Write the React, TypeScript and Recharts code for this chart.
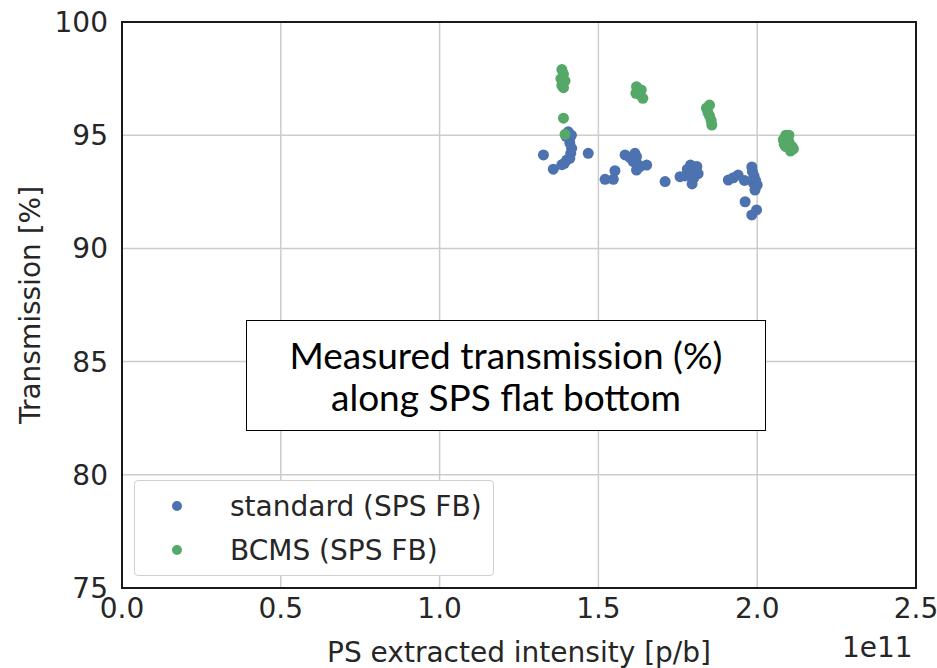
import {
  ScatterChart,
  Scatter,
  XAxis,
  YAxis,
  CartesianGrid,
  ReferenceArea,
} from "recharts";

// intensity in units of 1e11 p/b, transmission in %
const standardPoints: [number, number][] = [
  [1.327, 94.13], [1.358, 93.5], [1.385, 93.7], [1.393, 93.76], [1.4, 93.9],
  [1.41, 93.98], [1.413, 94.2], [1.416, 94.42], [1.41, 94.65], [1.41, 94.86],
  [1.405, 95.15], [1.415, 95.0], [1.398, 94.95], [1.468, 94.2],
  [1.521, 93.05], [1.547, 93.05], [1.552, 93.43], [1.584, 94.13], [1.6, 94.0],
  [1.615, 94.2], [1.62, 94.05], [1.61, 93.83], [1.625, 93.7], [1.62, 93.46],
  [1.63, 93.6], [1.652, 93.68], [1.71, 92.95],
  [1.757, 93.17], [1.773, 93.2], [1.78, 93.5], [1.79, 93.68], [1.8, 93.6],
  [1.81, 93.62], [1.79, 93.3], [1.8, 93.1], [1.795, 92.85], [1.814, 93.3],
  [1.909, 93.02], [1.925, 93.12], [1.94, 93.24], [1.96, 93.0], [1.983, 93.6],
  [1.985, 93.4], [1.99, 93.2], [1.988, 92.88], [1.995, 93.0], [1.993, 92.58],
  [1.962, 92.06], [1.983, 91.48], [1.998, 91.7], [2.0, 92.8],
];

const bcmsPoints: [number, number][] = [
  [1.385, 97.9], [1.39, 97.7], [1.382, 97.5], [1.39, 97.35], [1.395, 97.4],
  [1.385, 97.2], [1.39, 97.1], [1.39, 95.75], [1.395, 95.04],
  [1.62, 97.14], [1.625, 96.95], [1.63, 96.8], [1.64, 96.63], [1.618, 96.85],
  [1.635, 97.0],
  [1.84, 96.2], [1.85, 96.33], [1.845, 96.0], [1.85, 95.85], [1.855, 95.65],
  [1.857, 95.45],
  [2.082, 94.8], [2.09, 95.0], [2.095, 94.9], [2.1, 94.7], [2.11, 94.5],
  [2.105, 94.3], [2.114, 94.4], [2.09, 94.5], [2.085, 94.6], [2.1, 95.0],
];

const xTicks = [0, 0.5, 1.0, 1.5, 2.0, 2.5];
const yTicks = [75, 80, 85, 90, 95, 100];

const seriesNames = ["standard (SPS FB)", "BCMS (SPS FB)"];
const BLUE = "#4c72b0";
const GREEN = "#55a868";
const TEXT = "#262626";
const FONT = "'DejaVu Sans', sans-serif";
const FS = 28;

const toRows = (pts: [number, number][]) => pts.map(([x, y]) => ({ x, y }));

const dot = (color: string) => (props: any) =>
  <circle cx={props.cx} cy={props.cy} r={5.5} fill={color} />;

function LegendBox() {
  const items = [
    { name: seriesNames[0], color: BLUE },
    { name: seriesNames[1], color: GREEN },
  ];
  return (
    <div
      style={{
        position: "absolute",
        left: 134,
        top: 480,
        width: 360,
        height: 96,
        boxSizing: "border-box",
        border: "1.5px solid #d0d0d0",
        borderRadius: 4,
        background: "#fff",
        paddingTop: 3,
      }}
    >
      {items.map((it) => (
        <div key={it.name} style={{ display: "flex", alignItems: "center", height: 44 }}>
          <span
            style={{
              width: 10,
              height: 10,
              borderRadius: "50%",
              background: it.color,
              marginLeft: 37,
              marginRight: 48,
              flex: "none",
            }}
          />
          <span style={{ fontFamily: FONT, fontSize: FS, color: TEXT, whiteSpace: "nowrap" }}>
            {it.name}
          </span>
        </div>
      ))}
    </div>
  );
}

export default function App() {
  return (
    <div style={{ position: "fixed", left: 0, top: 0, width: 937, height: 668, background: "#fff" }}>
      <ScatterChart
        width={937}
        height={668}
        margin={{ top: 22, right: 21, bottom: 0, left: 0 }}
        style={{ fontFamily: FONT }}
      >
        <CartesianGrid stroke="#cccccc" strokeWidth={1.5} />
        <XAxis
          type="number"
          dataKey="x"
          domain={[0, 2.5]}
          ticks={xTicks}
          tickFormatter={(v: number) => v.toFixed(1)}
          height={80}
          axisLine={false}
          tickLine={false}
          tickSize={0}
          tickMargin={10}
          tick={{ fill: TEXT, fontSize: FS }}
          label={{
            value: "PS extracted intensity [p/b]",
            position: "insideBottom",
            offset: 6,
            fill: TEXT,
            fontSize: FS,
          }}
        />
        <YAxis
          type="number"
          dataKey="y"
          domain={[75, 100]}
          ticks={yTicks}
          width={122}
          axisLine={false}
          tickLine={false}
          tickSize={0}
          tickMargin={14}
          tick={{ fill: TEXT, fontSize: FS }}
          label={{
            value: "Transmission [%]",
            angle: -90,
            position: "insideLeft",
            offset: 30,
            fill: TEXT,
            fontSize: FS,
            style: { textAnchor: "middle" },
          }}
        />
        <ReferenceArea
          x1={0}
          x2={2.5}
          y1={75}
          y2={100}
          fill="none"
          fillOpacity={0}
          stroke="#1a1a1a"
          strokeWidth={2}
        />
        <Scatter
          name={seriesNames[0]}
          data={toRows(standardPoints)}
          fill={BLUE}
          shape={dot(BLUE)}
          isAnimationActive={false}
        />
        <Scatter
          name={seriesNames[1]}
          data={toRows(bcmsPoints)}
          fill={GREEN}
          shape={dot(GREEN)}
          isAnimationActive={false}
        />
      </ScatterChart>

      <LegendBox />

      <div
        style={{
          position: "absolute",
          left: 246,
          top: 320,
          width: 520,
          height: 111,
          boxSizing: "border-box",
          border: "1.5px solid #000",
          background: "#fff",
          display: "flex",
          flexDirection: "column",
          justifyContent: "center",
          alignItems: "center",
          fontFamily: "Lato, 'Open Sans', sans-serif",
          fontSize: 37,
          lineHeight: "42px",
          color: "#000",
          textAlign: "center",
          whiteSpace: "nowrap",
        }}
      >
        <div>Measured transmission (%)</div>
        <div>along SPS flat bottom</div>
      </div>

      <div
        style={{
          position: "absolute",
          left: 842,
          top: 631,
          fontFamily: FONT,
          fontSize: FS,
          color: TEXT,
        }}
      >
        1e11
      </div>
    </div>
  );
}
